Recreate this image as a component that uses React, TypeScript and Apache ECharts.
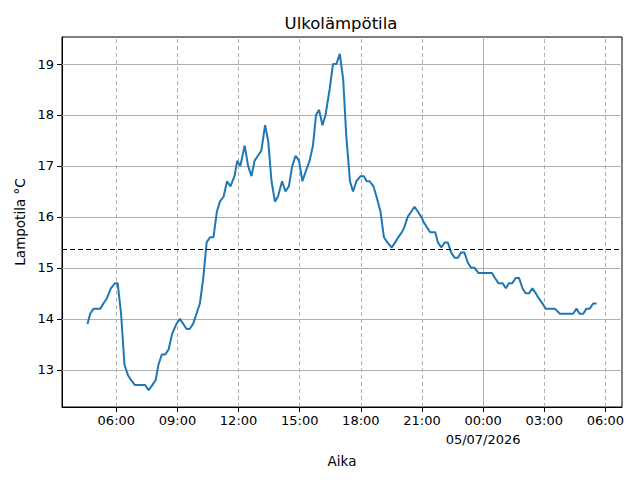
import React, { useEffect, useRef } from "react";
import * as echarts from "echarts";

// Times (HH:MM); a time smaller than its predecessor means the next day (05/07/2026)
const times = [
  "04:35", "04:43", "04:53", "05:13", "05:22", "05:32", "05:44", "05:56", "06:04", "06:14",
  "06:24", "06:34", "06:43", "06:55", "07:25", "07:35", "07:46", "07:56", "08:04", "08:14",
  "08:24", "08:34", "08:44", "08:57", "09:07", "09:17", "09:27", "09:36", "09:46", "09:56",
  "10:06", "10:16", "10:26", "10:36", "10:46", "10:56", "11:05", "11:16", "11:26", "11:36",
  "11:48", "11:56", "12:05", "12:18", "12:28", "12:38", "12:47", "12:57", "13:07", "13:18",
  "13:27", "13:37", "13:47", "13:56", "14:08", "14:18", "14:28", "14:38", "14:48", "14:58",
  "15:08", "15:18", "15:29", "15:39", "15:48", "15:57", "16:07", "16:16", "16:28", "16:38",
  "16:48", "16:58", "17:08", "17:17", "17:28", "17:37", "17:47", "17:59", "18:09", "18:17",
  "18:26", "18:37", "18:46", "18:58", "19:08", "19:18", "19:31", "19:41", "19:50", "20:01",
  "20:08", "20:18", "20:28", "20:38", "20:48", "20:58", "21:05", "21:14", "21:24", "21:32",
  "21:39", "21:47", "21:57", "22:07", "22:16", "22:26", "22:36", "22:46", "22:55", "23:05",
  "23:15", "23:25", "23:35", "23:46", "23:56", "00:06", "00:16", "00:26", "00:35", "00:45",
  "00:57", "01:07", "01:16", "01:26", "01:36", "01:46", "01:56", "02:05", "02:15", "02:25",
  "02:35", "02:44", "02:55", "03:04", "03:14", "03:31", "03:46", "04:25", "04:35", "04:44",
  "04:55", "05:04", "05:14", "05:24", "05:34",
];

const temperatures = [
  13.9, 14.1, 14.2, 14.2, 14.3, 14.4, 14.6, 14.7, 14.7, 14.1,
  13.1, 12.9, 12.8, 12.7, 12.7, 12.6, 12.7, 12.8, 13.1, 13.3,
  13.3, 13.4, 13.7, 13.9, 14.0, 13.9, 13.8, 13.8, 13.9, 14.1,
  14.3, 14.8, 15.5, 15.6, 15.6, 16.1, 16.3, 16.4, 16.7, 16.6,
  16.8, 17.1, 17.0, 17.4, 17.0, 16.8, 17.1, 17.2, 17.3, 17.8,
  17.5, 16.7, 16.3, 16.4, 16.7, 16.5, 16.6, 17.0, 17.2, 17.1,
  16.7, 16.9, 17.1, 17.4, 18.0, 18.1, 17.8, 18.0, 18.5, 19.0,
  19.0, 19.2, 18.7, 17.6, 16.7, 16.5, 16.7, 16.8, 16.8, 16.7,
  16.7, 16.6, 16.4, 16.1, 15.6, 15.5, 15.4, 15.5, 15.6, 15.7,
  15.8, 16.0, 16.1, 16.2, 16.1, 16.0, 15.9, 15.8, 15.7, 15.7,
  15.7, 15.5, 15.4, 15.5, 15.5, 15.3, 15.2, 15.2, 15.3, 15.3,
  15.1, 15.0, 15.0, 14.9, 14.9, 14.9, 14.9, 14.9, 14.8, 14.7,
  14.7, 14.6, 14.7, 14.7, 14.8, 14.8, 14.6, 14.5, 14.5, 14.6,
  14.5, 14.4, 14.3, 14.2, 14.2, 14.2, 14.1, 14.1, 14.2, 14.1,
  14.1, 14.2, 14.2, 14.3, 14.3,
];

const meanTemperature = 15.37;

// tick positions in hours from 04/07/2026 00:00
const xMinorTicks = [6, 9, 12, 15, 18, 21, 27, 30];
const xMajorTicks = [24];
const xTickHours = [6, 9, 12, 15, 18, 21, 24, 27, 30];
const yTicks = [13, 14, 15, 16, 17, 18, 19];
const dateLabel = "05/07/2026";

const toHours = (list: string[]) => {
  let day = 0;
  let prev = -1;
  return list.map((t) => {
    const [h, m] = t.split(":").map(Number);
    let v = h + m / 60;
    if (v + day * 24 < prev) day += 1;
    v += day * 24;
    prev = v;
    return v;
  });
};

const FONT = "DejaVu Sans";

export default function App() {
  const ref = useRef<HTMLDivElement>(null);
  useEffect(() => {
    document.body.style.margin = "0";
    const chart = echarts.init(ref.current!, undefined, { renderer: "svg" });
    const hrs = toHours(times);
    const data = hrs.map((h, i) => [h, temperatures[i]]);
    const xSpan = hrs[hrs.length - 1] - hrs[0];
    const tMin = Math.min(...temperatures);
    const tMax = Math.max(...temperatures);
    const ySpan = tMax - tMin;

    const fmt = (v: number) => {
      const h = Math.round(v) % 24;
      const s = (h < 10 ? "0" : "") + h + ":00";
      return xMajorTicks.includes(Math.round(v)) ? s + "\n" + dateLabel : s;
    };

    chart.setOption({
      animation: false,
      textStyle: { fontFamily: FONT },
      title: {
        text: "Ulkolämpötila",
        left: 336,
        textAlign: "center",
        top: 10,
        textStyle: { fontFamily: FONT, fontSize: 16.5, fontWeight: "normal", color: "#000" },
      },
      grid: {
        left: 62,
        right: 18,
        top: 37,
        bottom: 73,
        show: true,
        borderColor: "#000",
        borderWidth: 1,
        backgroundColor: "transparent",
      },
      xAxis: {
        type: "value",
        min: hrs[0] - xSpan * 0.05,
        max: hrs[hrs.length - 1] + xSpan * 0.05,
        name: "Aika",
        nameLocation: "middle",
        nameGap: 34,
        nameTextStyle: { fontFamily: FONT, fontSize: 13.5, color: "#000" },
        axisLine: { show: true, lineStyle: { color: "#000", width: 1 } },
        axisTick: { show: true, length: 5, lineStyle: { color: "#000" }, customValues: xTickHours },
        axisLabel: {
          customValues: xTickHours,
          formatter: fmt,
          fontFamily: FONT,
          fontSize: 13,
          color: "#000",
          margin: 4,
          lineHeight: 19,
        },
        splitLine: { show: false },
      },
      yAxis: {
        type: "value",
        min: tMin - ySpan * 0.05,
        max: tMax + ySpan * 0.05,
        name: "Lampotila °C",
        nameLocation: "middle",
        nameGap: 35,
        nameTextStyle: { fontFamily: FONT, fontSize: 13.5, color: "#000" },
        axisLine: { show: true, lineStyle: { color: "#000", width: 1 } },
        axisTick: { show: true, length: 5, lineStyle: { color: "#000" }, customValues: yTicks },
        axisLabel: {
          customValues: yTicks,
          fontFamily: FONT,
          fontSize: 13,
          color: "#000",
          margin: 8,
        },
        splitLine: { show: false },
      },
      series: [
        {
          type: "line",
          data: [],
          silent: true,
          markLine: {
            silent: true,
            symbol: ["none", "none"],
            label: { show: false },
            z: 1,
            data: [
              ...yTicks.map((v) => ({ yAxis: v, lineStyle: { color: "#b0b0b0", width: 1, type: "solid" } })),
              ...xMinorTicks.map((v) => ({ xAxis: v, lineStyle: { color: "#b0b0b0", width: 1, type: [4, 3] } })),
              ...xMajorTicks.map((v) => ({ xAxis: v, lineStyle: { color: "#b0b0b0", width: 1, type: "solid" } })),
            ],
          },
        },
        {
          type: "line",
          data,
          showSymbol: false,
          symbol: "none",
          lineStyle: { color: "#1f77b4", width: 2 },
          z: 3,
          markLine: {
            silent: true,
            symbol: ["none", "none"],
            label: { show: false },
            data: [{ yAxis: meanTemperature }],
            lineStyle: { color: "#000", width: 1.2, type: [5, 3] },
          },
        },
      ],
    });
    return () => chart.dispose();
  }, []);
  return <div ref={ref} style={{ width: 640, height: 480 }} />;
}
